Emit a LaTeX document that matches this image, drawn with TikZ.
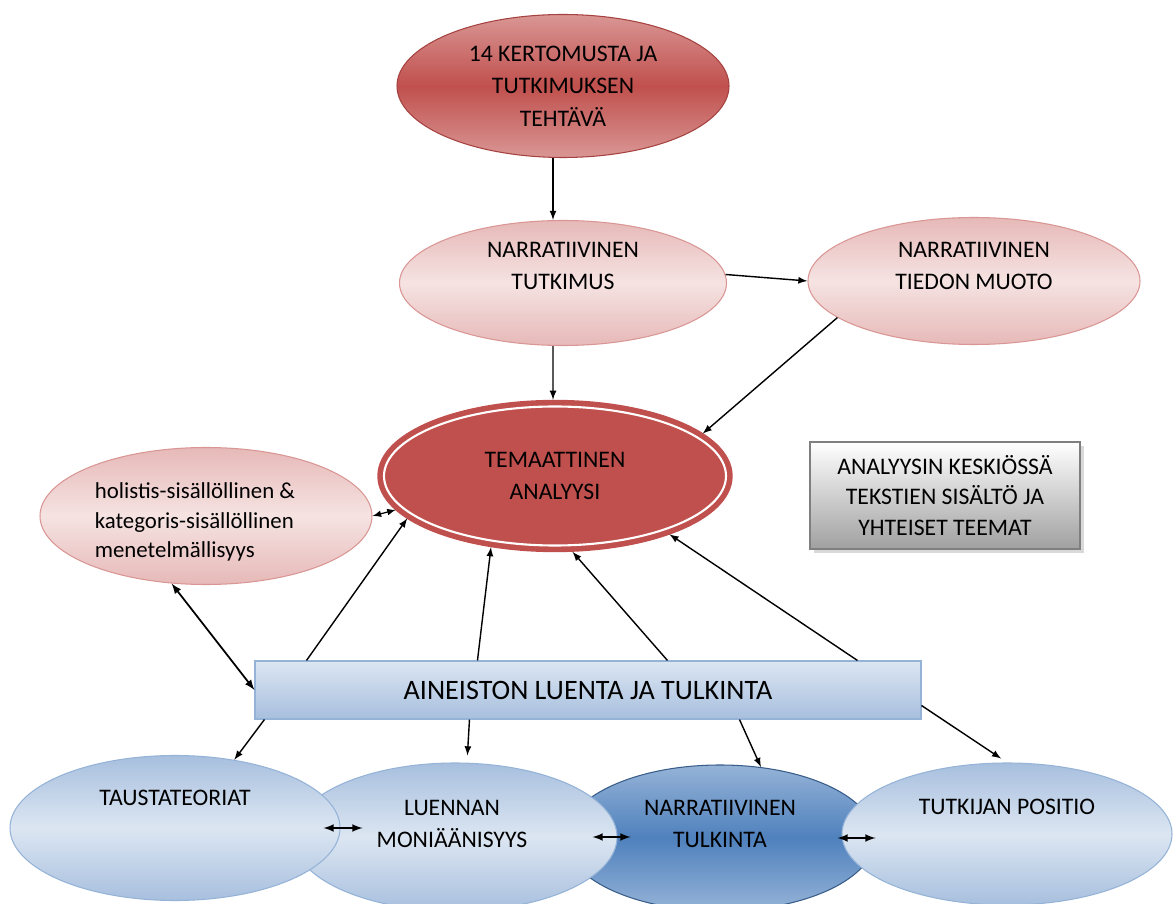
\documentclass[tikz,border=0pt]{standalone}
\usepackage{fontspec}
\setmainfont{Carlito}
\usetikzlibrary{shapes.geometric,shadows}

\definecolor{rojo}{HTML}{C0504D}
\definecolor{rojoclaro}{HTML}{D99694}
\definecolor{rojoborde}{HTML}{A5423F}
\definecolor{rosaosc}{HTML}{E6B9B8}
\definecolor{rosacla}{HTML}{F5E3E2}
\definecolor{rosaborde}{HTML}{D99694}
\definecolor{azulosc}{HTML}{A7BFDE}
\definecolor{azulcla}{HTML}{DCE6F2}
\definecolor{azulborde}{HTML}{95B3D7}
\definecolor{azulfuerte}{HTML}{4F81BD}
\definecolor{azulmedio}{HTML}{95B3D7}
\definecolor{azuloscuro}{HTML}{385D8A}
\definecolor{grisosc}{HTML}{A0A0A0}
\definecolor{grisborde}{HTML}{7F7F7F}

\begin{document}
\begin{tikzpicture}[font=\fontsize{13.5}{18.5}\selectfont,
    rosa/.style={ellipse, draw=rosaborde, line width=0.6pt, top color=rosaosc, bottom color=rosaosc, middle color=rosacla},
    azul/.style={ellipse, draw=azulborde, line width=0.6pt, top color=azulosc, bottom color=azulosc, middle color=azulcla},
    texto/.style={align=center, inner sep=0pt},
    flecha/.style={-latex, line width=0.8pt},
    doble/.style={latex-latex, line width=1pt}]
    \useasboundingbox (0,0) rectangle (23.46,-18.08);

    % Elipses de arriba
    \node[ellipse, draw=rojoborde, line width=0.6pt, top color=rojoclaro, bottom color=rojoclaro, middle color=rojo, minimum width=6.64cm, minimum height=2.86cm, align=center] (kerto) at (11.26,-1.72) {14 KERTOMUSTA JA\\TUTKIMUKSEN\\TEHTÄVÄ};
    \node[rosa, minimum width=6.54cm, minimum height=2.5cm] (tutk) at (11.26,-5.66) {};
    \node[texto] (tutk-t) at ([yshift=0.34cm]tutk.center) {NARRATIIVINEN\\TUTKIMUS};
    \node[rosa, minimum width=6.64cm, minimum height=2.54cm] (muoto) at (19.48,-5.62) {};
    \node[texto] (muoto-t) at ([yshift=0.3cm]muoto.center) {NARRATIIVINEN\\TIEDON MUOTO};

    % Keskella
    \node[ellipse, fill=rojo, draw=rojo, line width=3.2pt, double=white, double distance=1.2pt, outer sep=3.8pt, minimum width=6.84cm, minimum height=2.78cm, align=center] (tema) at (11.1,-9.52) {TEMAATTINEN\\ANALYYSI};
    \node[rosa, minimum width=6.64cm, minimum height=2.74cm] (holist) at (4.12,-10.32) {};
    \node[align=left, inner sep=0pt, font=\fontsize{13}{17}\selectfont] (holist-t) at ([xshift=-0.22cm,yshift=-0.12cm]holist.center) {holistis-sisällöllinen \&\\kategoris-sisällöllinen\\menetelmällisyys};
    \node[draw=grisborde, line width=1pt, top color=white, bottom color=grisosc, drop shadow={opacity=0.3, shadow xshift=2pt, shadow yshift=-2pt}, minimum width=5.4cm, minimum height=2.14cm, align=center, font=\fontsize{13.5}{17.5}\selectfont] (gris) at (18.9,-9.91) {ANALYYSIN KESKIÖSSÄ\\TEKSTIEN SISÄLTÖ JA\\YHTEISET TEEMAT};

    % Laatikko
    \node[draw=azulborde, line width=0.6pt, top color=azulcla, bottom color=azulosc, minimum width=13.32cm, minimum height=1.16cm, font=\fontsize{16}{19}\selectfont] (luenta) at (11.76,-13.8) {AINEISTON LUENTA JA TULKINTA};

    % Elipses de abajo
    \node[ellipse, draw=azuloscuro, line width=0.6pt, top color=azulmedio, bottom color=azulmedio, middle color=azulfuerte, minimum width=6.2cm, minimum height=2.92cm] (ntulk) at (14.4,-16.76) {};
    \node[azul, minimum width=6.48cm, minimum height=2.96cm] (luen) at (9.1,-16.74) {};
    \node[azul, minimum width=6.6cm, minimum height=2.9cm] (taust) at (3.5,-16.56) {};
    \node[azul, minimum width=6.6cm, minimum height=2.84cm] (tutkija) at (20.14,-16.68) {};
    \node[texto] (taust-t) at ([yshift=0.6cm]taust.center) {TAUSTATEORIAT};
    \node[texto] (luen-t) at ([xshift=-0.06cm,yshift=0.26cm]luen.center) {LUENNAN\\MONIÄÄNISYYS};
    \node[texto] (ntulk-t) at ([yshift=0.28cm]ntulk.center) {NARRATIIVINEN\\TULKINTA};
    \node[texto] (tutkija-t) at ([yshift=0.54cm]tutkija.center) {TUTKIJAN POSITIO};

    % Flechas
    \draw[flecha] ([xshift=-0.2cm]kerto.south) -- ([xshift=-0.2cm]tutk.north);
    \draw[flecha] ([xshift=-0.2cm]tutk.south) -- ([xshift=-0.04cm]tema.north);
    \draw[flecha] (tutk.3) -- (muoto.west);
    \draw[flecha] (muoto.195) -- (tema.16);
    \draw[latex-latex, line width=0.7pt] (holist.east) -- (tema.192);
    \draw[doble] (holist.243) -- (luenta.west);
    \draw[flecha] ([xshift=1.04cm]luenta.north west) -- (tema.196);
    \draw[flecha] ([xshift=4.46cm]luenta.north west) -- (tema.228);
    \draw[flecha] ([xshift=8.26cm]luenta.north west) -- (tema.283);
    \draw[flecha] ([xshift=12.06cm]luenta.north west) -- (tema.333);
    \draw[flecha] ([xshift=0.2cm]luenta.south west) -- (taust.49);
    \draw[flecha, shorten >=4pt] ([xshift=4.3cm]luenta.south west) -- ([xshift=0.24cm]luen.north);
    \draw[flecha] ([xshift=9.7cm]luenta.south west) -- (ntulk.60);
    \draw[flecha, shorten >=4pt] ([yshift=0.28cm]luenta.south east) -- (tutkija.north);

    % Kaksisuuntaiset
    \draw[doble] ([xshift=-0.34cm]taust.east) -- ([xshift=0.44cm]taust.east);
    \draw[doble] ([xshift=-0.5cm]luen.east) -- ([xshift=0.26cm]luen.east);
    \draw[doble] ([xshift=-0.76cm]ntulk.east) -- (ntulk.east);
\end{tikzpicture}
\end{document}
